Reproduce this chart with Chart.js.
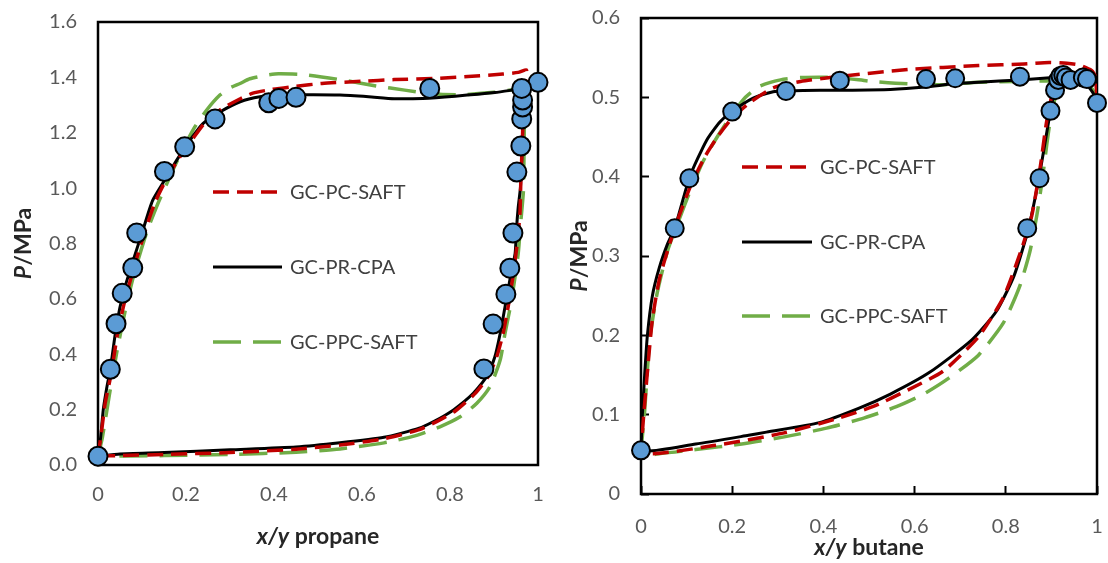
<!DOCTYPE html>
<html>
<head>
<meta charset="utf-8">
<script src="https://cdn.jsdelivr.net/npm/chart.js@4.4.0/dist/chart.umd.min.js"></script>
<style>
  html, body { margin: 0; padding: 0; background: #fff; }
  #wrap { position: relative; width: 1108px; height: 563px; }
  .panel { position: absolute; top: 0; }
</style>
</head>
<body>
<div id="wrap">
  <div class="panel" style="left:0;width:555px;height:563px"><canvas id="propaneChart" width="555" height="563"></canvas></div>
  <div class="panel" style="left:555px;width:553px;height:563px"><canvas id="butaneChart" width="553" height="563"></canvas></div>
</div>
<script>
/* P-x-y diagrams, propane and butane panels */
'use strict';

const FONT = 'Lato, "Open Sans", sans-serif';
const colors = { exp: '#5B9BD5', pcSaft: '#C00000', prCpa: '#000000', ppcSaft: '#70AD47' };
const modelNames = ['GC-PC-SAFT', 'GC-PR-CPA', 'GC-PPC-SAFT'];

// ---- propane panel ----
const propaneXTicks = [0, 0.2, 0.4, 0.6, 0.8, 1];
const propaneXLabels = ['0', '0.2', '0.4', '0.6', '0.8', '1'];
const propaneYTicks = [0, 0.2, 0.4, 0.6, 0.8, 1.0, 1.2, 1.4, 1.6];
const propaneYLabels = ['0.0', '0.2', '0.4', '0.6', '0.8', '1.0', '1.2', '1.4', '1.6'];

const propaneExpX = [0, 0.028, 0.041, 0.055, 0.079, 0.088, 0.151, 0.197, 0.266, 0.388, 0.411, 0.450, 0.754, 1.0,
                     0.877, 0.898, 0.927, 0.936, 0.943, 0.952, 0.961, 0.963, 0.965, 0.965, 0.963];
const propaneExpP = [0.032, 0.346, 0.510, 0.620, 0.712, 0.838, 1.060, 1.149, 1.250, 1.308, 1.324, 1.328, 1.360, 1.382,
                     0.347, 0.509, 0.617, 0.711, 0.838, 1.058, 1.152, 1.250, 1.293, 1.318, 1.360];

const propanePcSaftX = [0, 0.008, 0.016, 0.03, 0.045, 0.062, 0.083, 0.104, 0.13, 0.158, 0.185, 0.214, 0.245, 0.28, 0.32, 0.352,
                        0.394, 0.45, 0.509, 0.6, 0.673, 0.777, 0.85, 0.92, 0.955, 0.974,
                        0.968, 0.966, 0.964, 0.961, 0.959, 0.952, 0.943, 0.932, 0.92, 0.905, 0.885, 0.855, 0.812, 0.777,
                        0.73, 0.65, 0.55, 0.45, 0.3, 0.15, 0.05, 0];
const propanePcSaftP = [0.032, 0.12, 0.22, 0.33, 0.48, 0.6, 0.72, 0.83, 0.95, 1.04, 1.11, 1.175, 1.24, 1.285, 1.32, 1.343,
                        1.356, 1.368, 1.378, 1.386, 1.392, 1.397, 1.404, 1.412, 1.418, 1.426,
                        1.35, 1.25, 1.15, 1.03, 0.91, 0.79, 0.68, 0.57, 0.47, 0.385, 0.315, 0.255, 0.195, 0.163,
                        0.128, 0.095, 0.072, 0.057, 0.045, 0.038, 0.034, 0.032];

const propanePrCpaX = [0, 0.006, 0.012, 0.02, 0.028, 0.043, 0.059, 0.079, 0.1, 0.124, 0.152, 0.179, 0.209, 0.239, 0.277, 0.323,
                       0.368, 0.41, 0.468, 0.55, 0.615, 0.673, 0.738, 0.812, 0.902, 0.945, 0.965,
                       0.966, 0.965, 0.963, 0.96, 0.955, 0.951, 0.948, 0.936, 0.925, 0.914, 0.902, 0.883, 0.853, 0.808,
                       0.777, 0.73, 0.65, 0.55, 0.45, 0.3, 0.15, 0.05, 0];
const propanePrCpaP = [0.032, 0.1, 0.2, 0.28, 0.346, 0.514, 0.63, 0.734, 0.838, 0.955, 1.03, 1.101, 1.173, 1.234, 1.275, 1.312,
                       1.33, 1.335, 1.337, 1.336, 1.330, 1.323, 1.324, 1.332, 1.345, 1.355, 1.36,
                       1.30, 1.2, 1.1, 1.0, 0.93, 0.85, 0.764, 0.668, 0.571, 0.475, 0.391, 0.319, 0.259, 0.199,
                       0.169, 0.133, 0.1, 0.08, 0.065, 0.055, 0.045, 0.04, 0.032];

const propanePpcSaftX = [0, 0.01, 0.026, 0.043, 0.063, 0.083, 0.111, 0.135, 0.16, 0.186, 0.22, 0.247, 0.277, 0.3, 0.323, 0.345,
                         0.383, 0.41, 0.468, 0.55, 0.632, 0.697, 0.754, 0.82, 0.9, 0.945, 0.967,
                         0.969, 0.968, 0.967, 0.961, 0.955, 0.94, 0.925, 0.914, 0.891, 0.861, 0.823, 0.777, 0.72,
                         0.65, 0.55, 0.45, 0.3, 0.15, 0];
const propanePpcSaftP = [0.032, 0.1, 0.255, 0.41, 0.566, 0.696, 0.842, 0.94, 1.029, 1.119, 1.221, 1.282, 1.336, 1.362, 1.378, 1.395,
                         1.408, 1.413, 1.41, 1.392, 1.369, 1.354, 1.342, 1.337, 1.346, 1.356, 1.363,
                         1.25, 1.1, 0.993, 0.88, 0.764, 0.596, 0.475, 0.379, 0.283, 0.223, 0.174, 0.138, 0.105,
                         0.08, 0.058, 0.046, 0.038, 0.034, 0.032];

// ---- butane panel ----
const butaneXTicks = [0, 0.2, 0.4, 0.6, 0.8, 1];
const butaneXLabels = ['0', '0.2', '0.4', '0.6', '0.8', '1'];
const butaneYTicks = [0, 0.1, 0.2, 0.3, 0.4, 0.5, 0.6];
const butaneYLabels = ['0', '0.1', '0.2', '0.3', '0.4', '0.5', '0.6'];

const butaneExpX = [0, 0.074, 0.106, 0.2, 0.318, 0.436, 0.625, 0.689, 0.831,
                    0.847, 0.874, 0.898, 0.908, 0.915, 0.92, 0.926, 0.932, 0.942, 0.969, 0.978, 1.0];
const butaneExpP = [0.055, 0.335, 0.398, 0.482, 0.508, 0.521, 0.523, 0.524, 0.526,
                    0.335, 0.398, 0.483, 0.509, 0.522, 0.527, 0.528, 0.525, 0.522, 0.525, 0.523, 0.493];

const butanePcSaftX = [1.0, 0.996, 0.988, 0.96, 0.934, 0.895, 0.84, 0.74, 0.585, 0.43, 0.35, 0.29, 0.24, 0.2, 0.17, 0.14,
                       0.11, 0.08, 0.06, 0.04, 0.025, 0.015, 0.006, 0,
                       0.159, 0.314, 0.43, 0.508, 0.585, 0.663, 0.74, 0.795, 0.833, 0.857, 0.876, 0.888, 0.9, 0.915, 0.934];
const butanePcSaftP = [0.497, 0.527, 0.534, 0.541, 0.543, 0.544, 0.542, 0.540, 0.535, 0.526, 0.52, 0.512, 0.494, 0.474, 0.452, 0.425,
                       0.39, 0.345, 0.31, 0.27, 0.22, 0.16, 0.1, 0.052,
                       0.061, 0.077, 0.095, 0.11, 0.131, 0.155, 0.198, 0.248, 0.306, 0.351, 0.414, 0.464, 0.5, 0.53, 0.543];

const butanePrCpaX = [1.0, 0.996, 0.977, 0.955, 0.925, 0.904, 0.831, 0.74, 0.684, 0.624, 0.547, 0.436, 0.393, 0.318, 0.29, 0.246,
                      0.199, 0.173, 0.144, 0.107, 0.075, 0.058, 0.04, 0.025, 0.014, 0.008, 0.003, 0,
                      0.12, 0.236, 0.275, 0.391, 0.477, 0.547, 0.632, 0.725, 0.779, 0.818, 0.849, 0.872, 0.895, 0.907, 0.915, 0.925];
const butanePrCpaP = [0.493, 0.501, 0.516, 0.522, 0.526, 0.525, 0.522, 0.519, 0.517, 0.513, 0.510, 0.509, 0.509, 0.508, 0.507, 0.499,
                      0.482, 0.469, 0.446, 0.4, 0.337, 0.315, 0.285, 0.25, 0.2, 0.15, 0.1, 0.055,
                      0.063, 0.074, 0.078, 0.09, 0.108, 0.126, 0.153, 0.194, 0.23, 0.275, 0.333, 0.396, 0.473, 0.509, 0.52, 0.526];

const butanePpcSaftX = [1.0, 0.99, 0.97, 0.93, 0.9, 0.82, 0.74, 0.663, 0.585, 0.508, 0.43, 0.353, 0.306, 0.26, 0.229, 0.198,
                        0.167, 0.136, 0.105, 0.081, 0.058, 0.035, 0.019, 0.008, 0,
                        0.043, 0.12, 0.221, 0.314, 0.407, 0.49, 0.56, 0.62, 0.675, 0.74, 0.795, 0.83, 0.853, 0.868,
                        0.88, 0.89, 0.9, 0.915, 0.93];
const butanePpcSaftP = [0.497, 0.51, 0.52, 0.524, 0.521, 0.52, 0.519, 0.516, 0.517, 0.52, 0.525, 0.525, 0.522, 0.514, 0.5, 0.477,
                        0.45, 0.419, 0.378, 0.342, 0.306, 0.252, 0.194, 0.104, 0.05,
                        0.051, 0.056, 0.063, 0.072, 0.083, 0.096, 0.11, 0.126, 0.146, 0.175, 0.216, 0.261, 0.306, 0.351,
                        0.396, 0.441, 0.48, 0.51, 0.524];

const pts = (xs, ys) => xs.map((x, i) => ({ x, y: ys[i] }));

// box round the plot area, drawn under the marks
const frame = {
  id: 'frame',
  beforeDatasetsDraw(chart) {
    const { ctx, chartArea: a } = chart;
    ctx.save();
    ctx.strokeStyle = '#000';
    ctx.lineWidth = 2.5;
    ctx.strokeRect(a.left, a.top, a.right - a.left, a.bottom - a.top);
    ctx.restore();
  }
};

// legend placed inside the plot, one row per model curve
const insideLegend = {
  id: 'insideLegend',
  afterDraw(chart, args, opts) {
    const ctx = chart.ctx;
    ctx.save();
    opts.rows.forEach((y, i) => {
      const ds = chart.data.datasets[i + 1];
      ctx.beginPath();
      ctx.strokeStyle = ds.borderColor;
      ctx.lineWidth = ds.borderWidth;
      ctx.setLineDash(ds.borderDash || []);
      ctx.moveTo(opts.lineStart, y);
      ctx.lineTo(opts.lineEnd, y);
      ctx.stroke();
      ctx.setLineDash([]);
      ctx.fillStyle = '#404040';
      ctx.font = `20px ${FONT}`;
      ctx.textBaseline = 'middle';
      ctx.textAlign = 'left';
      ctx.fillText(ds.label, opts.textX, y + 1);
    });
    ctx.restore();
  }
};

function drawParts(ctx, parts) {
  let total = 0;
  parts.forEach(p => { ctx.font = p.font; p.w = ctx.measureText(p.text).width; total += p.w; });
  let cx = -total / 2;
  parts.forEach(p => { ctx.font = p.font; ctx.fillText(p.text, cx, 0); cx += p.w; });
}

// axis titles with an italic variable part
const axisTitles = {
  id: 'axisTitles',
  afterDraw(chart, args, opts) {
    const { ctx, chartArea: a } = chart;
    const bi = `italic bold 23px ${FONT}`, b = `bold 23px ${FONT}`;
    ctx.save();
    ctx.fillStyle = '#262626';
    ctx.textBaseline = 'middle';
    ctx.textAlign = 'left';
    ctx.save();
    ctx.translate((a.left + a.right) / 2, opts.xTitleY);
    drawParts(ctx, [{ text: 'x/y', font: bi }, { text: ' ' + opts.compound, font: b }]);
    ctx.restore();
    ctx.save();
    ctx.translate(opts.yTitleX, (a.top + a.bottom) / 2);
    ctx.rotate(-Math.PI / 2);
    drawParts(ctx, [{ text: 'P', font: bi }, { text: '/MPa', font: b }]);
    ctx.restore();
    ctx.restore();
  }
};

function makePanel(canvasId, p) {
  const ctx = document.getElementById(canvasId).getContext('2d');
  const lineDs = (label, data, color, width, dash) => ({
    label, data, borderColor: color, backgroundColor: color, borderWidth: width, borderDash: dash,
    showLine: true, pointRadius: 0, pointHoverRadius: 0, tension: 0.2, fill: false
  });
  return new Chart(ctx, {
    type: 'scatter',
    data: {
      datasets: [
        { label: 'exp', data: p.exp, backgroundColor: colors.exp, borderColor: '#000', borderWidth: 2,
          pointRadius: p.pointRadius, pointHoverRadius: p.pointRadius, clip: false },
        lineDs(modelNames[0], p.pcSaft, colors.pcSaft, 3.5, [16, 8]),
        lineDs(modelNames[1], p.prCpa, colors.prCpa, 3, []),
        lineDs(modelNames[2], p.ppcSaft, colors.ppcSaft, 3.5, [28, 12])
      ]
    },
    options: {
      responsive: false,
      animation: false,
      events: [],
      layout: { padding: p.padding },
      plugins: {
        legend: { display: false },
        tooltip: { enabled: false },
        insideLegend: p.legend,
        axisTitles: p.titles
      },
      scales: {
        x: {
          type: 'linear', min: 0, max: 1,
          afterBuildTicks: s => { s.ticks = p.xTicks.map(v => ({ value: v })); },
          afterFit: s => { s.height = p.xAxisHeight; s.paddingLeft = 0; s.paddingRight = 0; },
          ticks: { callback: (v, i) => p.xLabels[i], color: '#595959', font: { family: FONT, size: 20 },
                   padding: p.xPad, maxRotation: 0, autoSkip: false },
          grid: { display: p.innerTicks, drawOnChartArea: false, drawTicks: p.innerTicks, tickLength: -8,
                  tickWidth: 2, tickColor: '#000' },
          border: { display: false }
        },
        y: {
          type: 'linear', min: p.yTicks[0], max: p.yTicks[p.yTicks.length - 1],
          afterBuildTicks: s => { s.ticks = p.yTicks.map(v => ({ value: v })); },
          afterFit: s => { s.width = p.yAxisWidth; s.paddingTop = 0; s.paddingBottom = 0; },
          ticks: { callback: (v, i) => p.yLabels[i], color: '#595959', font: { family: FONT, size: 20 },
                   padding: p.yPad, autoSkip: false },
          grid: { display: p.innerTicks, drawOnChartArea: false, drawTicks: p.innerTicks, tickLength: -8,
                  tickWidth: 2, tickColor: '#000' },
          border: { display: false }
        }
      }
    },
    plugins: [frame, insideLegend, axisTitles]
  });
}

makePanel('propaneChart', {
  exp: pts(propaneExpX, propaneExpP),
  pcSaft: pts(propanePcSaftX, propanePcSaftP),
  prCpa: pts(propanePrCpaX, propanePrCpaP),
  ppcSaft: pts(propanePpcSaftX, propanePpcSaftP),
  xTicks: propaneXTicks, xLabels: propaneXLabels,
  yTicks: propaneYTicks, yLabels: propaneYLabels,
  pointRadius: 9.5,
  padding: { top: 22, right: 17, left: 0, bottom: 0 },
  xAxisHeight: 98, yAxisWidth: 98,
  xPad: 18, yPad: 21,
  innerTicks: false,
  legend: { lineStart: 213, lineEnd: 282, textX: 290, rows: [192, 267, 342] },
  titles: { compound: 'propane', xTitleY: 537, yTitleX: 24 }
});

makePanel('butaneChart', {
  exp: pts(butaneExpX, butaneExpP),
  pcSaft: pts(butanePcSaftX, butanePcSaftP),
  prCpa: pts(butanePrCpaX, butanePrCpaP),
  ppcSaft: pts(butanePpcSaftX, butanePpcSaftP),
  xTicks: butaneXTicks, xLabels: butaneXLabels,
  yTicks: butaneYTicks, yLabels: butaneYLabels,
  pointRadius: 9,
  padding: { top: 18, right: 11, left: 0, bottom: 0 },
  xAxisHeight: 69, yAxisWidth: 86,
  xPad: 29, yPad: 29,
  innerTicks: true,
  legend: { lineStart: 187, lineEnd: 257, textX: 265, rows: [167, 242, 316] },
  titles: { compound: 'butane', xTitleY: 548, yTitleX: 25 }
});
</script>
</body>
</html>
